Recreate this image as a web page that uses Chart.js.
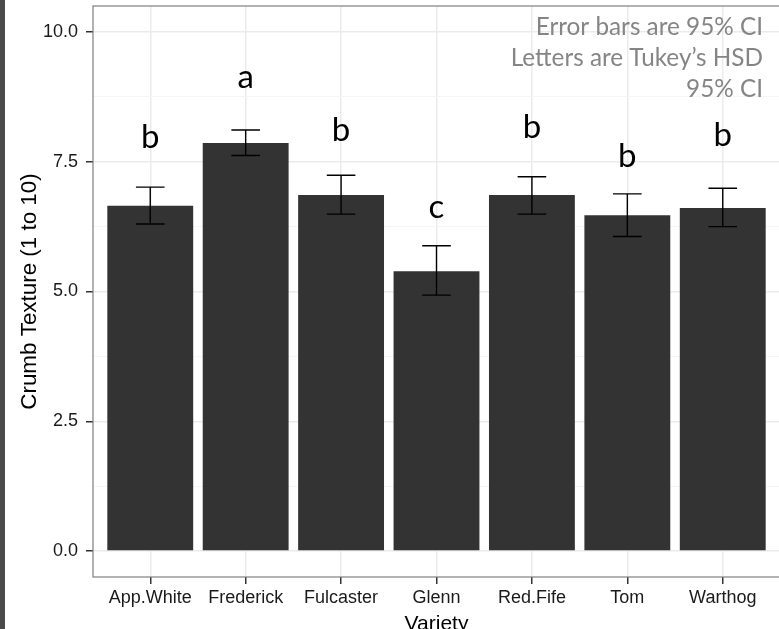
<!DOCTYPE html>
<html><head><meta charset="utf-8">
<script src="https://cdn.jsdelivr.net/npm/chart.js@4"></script>
<style>
html,body{margin:0;padding:0;background:#fff;overflow:hidden;}
#wrap{position:relative;width:779px;height:629px;overflow:hidden;background:#fff;}
#band{position:absolute;left:0;top:0;width:5px;height:629px;background:#4a4a4a;}
canvas{position:absolute;left:0;top:0;}
</style></head><body>
<div id="wrap"><canvas id="c" width="800" height="640"></canvas><div id="band"></div></div>
<script>
const categories = ['App.White', 'Frederick', 'Fulcaster', 'Glenn', 'Red.Fife', 'Tom', 'Warthog'];
const means  = [6.65, 7.86, 6.86, 5.39, 6.86, 6.47, 6.61];
const ciLow  = [6.30, 7.62, 6.49, 4.93, 6.49, 6.06, 6.25];
const ciHigh = [7.01, 8.11, 7.24, 5.88, 7.21, 6.88, 6.99];
const letters = ['b', 'a', 'b', 'c', 'b', 'b', 'b'];
const letterY = [7.76, 8.92, 7.89, 6.41, 7.95, 7.40, 7.80];
const yTickLabels = [0, 2.5, 5, 7.5, 10];
const yMinorTicks = [1.25, 3.75, 6.25, 8.75];
const noteLines = ['Error bars are 95% CI', 'Letters are Tukey\u2019s HSD', '95% CI'];

const capHalf = 0.15;
const isMajor = v => yTickLabels.some(t => Math.abs(t - v) < 1e-6);

const overlay = {
  id: 'overlay',
  afterDatasetsDraw(chart) {
    const {ctx, chartArea: a, scales: {x, y}} = chart;
    ctx.save();
    ctx.strokeStyle = '#000';
    ctx.lineWidth = 1.4;
    categories.forEach((c, i) => {
      const cx = x.getPixelForValue(i);
      const l = x.getPixelForValue(i - capHalf), r = x.getPixelForValue(i + capHalf);
      const yl = y.getPixelForValue(ciLow[i]), yh = y.getPixelForValue(ciHigh[i]);
      ctx.beginPath();
      ctx.moveTo(cx, yl); ctx.lineTo(cx, yh);
      ctx.moveTo(l, yl); ctx.lineTo(r, yl);
      ctx.moveTo(l, yh); ctx.lineTo(r, yh);
      ctx.stroke();
    });
    ctx.fillStyle = '#000';
    ctx.font = '33px Lato';
    ctx.textAlign = 'center';
    ctx.textBaseline = 'alphabetic';
    letters.forEach((t, i) => ctx.fillText(t, x.getPixelForValue(i), y.getPixelForValue(letterY[i])));
    ctx.strokeStyle = '#7f7f7f';
    ctx.lineWidth = 1.2;
    ctx.strokeRect(a.left, a.top, a.right - a.left, a.bottom - a.top);
    ctx.fillStyle = '#858585';
    ctx.font = '24.3px Lato';
    ctx.textAlign = 'right';
    noteLines.forEach((t, k) => ctx.fillText(t, a.right - 17, a.top + 29 + k * 31));
    ctx.restore();
  }
};

new Chart(document.getElementById('c'), {
  type: 'bar',
  data: {
    datasets: [{
      data: categories.map((c, i) => ({x: i, y: means[i]})),
      backgroundColor: '#333333',
      borderWidth: 0,
      barPercentage: 0.9,
      categoryPercentage: 1.0
    }]
  },
  options: {
    responsive: false,
    animation: false,
    layout: {padding: {left: 0, top: 6, right: 20, bottom: 0}},
    plugins: {legend: {display: false}, tooltip: {enabled: false}},
    scales: {
      x: {
        type: 'linear', min: -0.6, max: 6.6, offset: false,
        afterBuildTicks: s => { s.ticks = categories.map((c, i) => ({value: i})); },
        afterFit: s => { s.height = 63; s.paddingLeft = 0; s.paddingRight = 0; },
        ticks: {
          callback: v => categories[Math.round(v)],
          font: {family: 'Liberation Sans', size: 18}, color: '#1a1a1a',
          padding: 3, autoSkip: false, maxRotation: 0
        },
        grid: {offset: false, color: '#ebebeb', lineWidth: 1.5, tickLength: 7, tickColor: '#333', tickWidth: 1.5},
        border: {display: false},
        title: {display: true, text: 'Variety', font: {family: 'Liberation Sans', size: 21}, color: '#000', padding: {top: 0, bottom: 3}}
      },
      y: {
        min: -0.5, max: 10.5,
        afterBuildTicks: s => { s.ticks = yTickLabels.concat(yMinorTicks).sort((a, b) => a - b).map(v => ({value: v})); },
        afterFit: s => { s.width = 93; s.paddingTop = 0; s.paddingBottom = 0; },
        ticks: {
          callback: v => isMajor(v) ? v.toFixed(1) : '',
          font: {family: 'Liberation Sans', size: 18}, color: '#1a1a1a',
          padding: 8, autoSkip: false
        },
        grid: {
          color: c => isMajor(c.tick.value) ? '#ebebeb' : '#f5f5f5',
          lineWidth: c => isMajor(c.tick.value) ? 1.5 : 1,
          tickColor: c => isMajor(c.tick.value) ? '#333' : 'rgba(0,0,0,0)',
          tickLength: 7, tickWidth: 1.5
        },
        border: {display: false},
        title: {display: true, text: 'Crumb Texture (1 to 10)', font: {family: 'Liberation Sans', size: 22.4}, color: '#000', padding: {top: 16.6, bottom: 0}}
      }
    }
  },
  plugins: [overlay]
});
</script>
</body></html>
